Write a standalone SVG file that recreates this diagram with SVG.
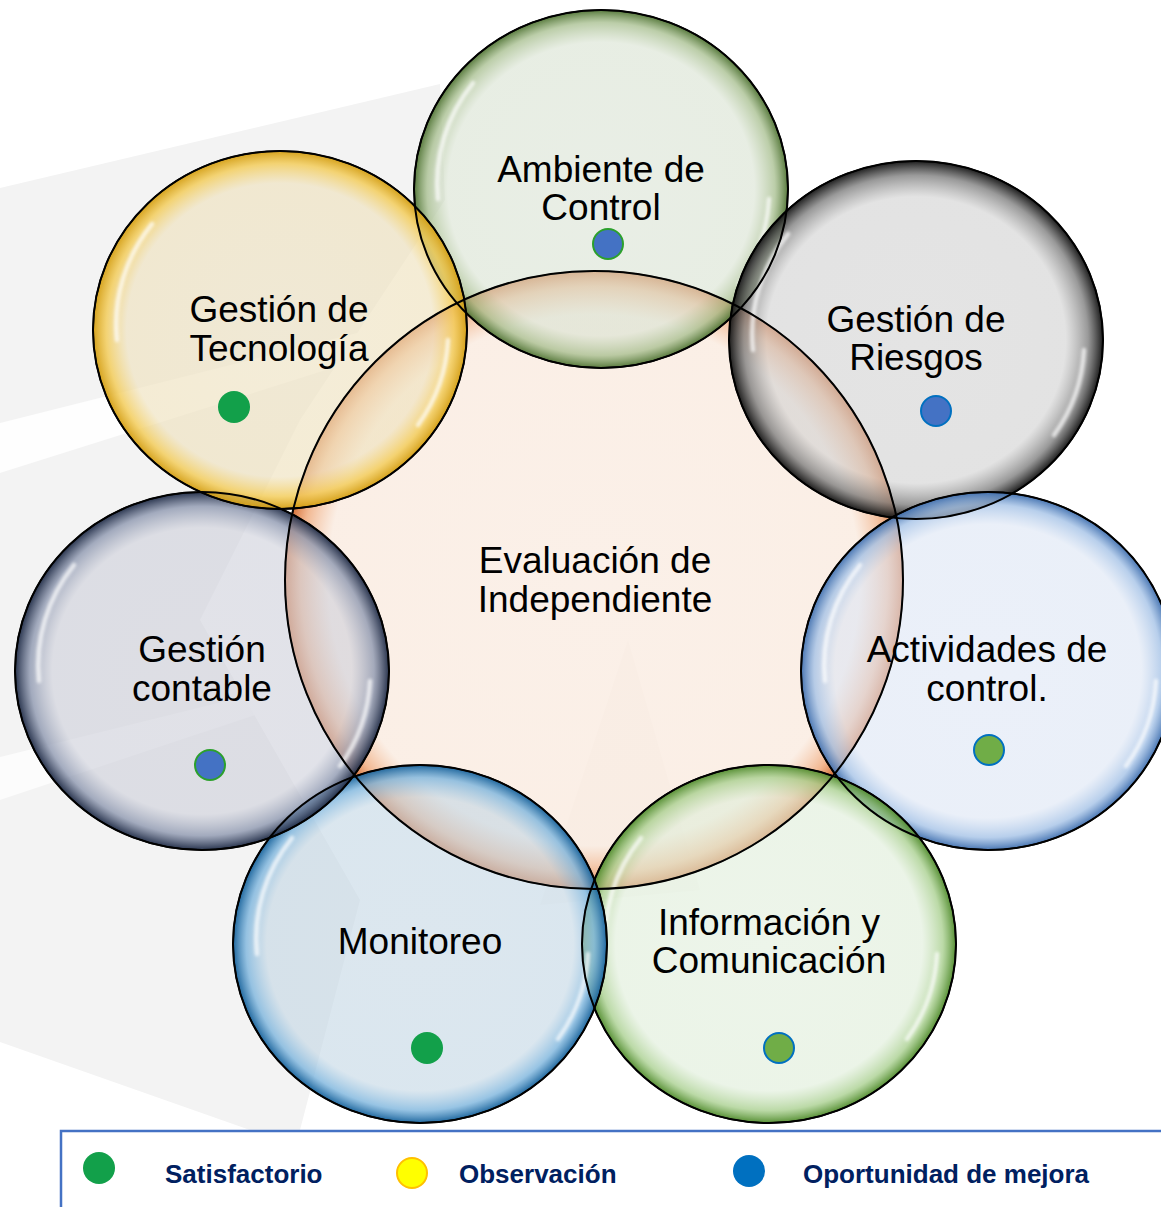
<svg xmlns="http://www.w3.org/2000/svg" width="1161" height="1207" viewBox="0 0 1161 1207">
<style>
.lbl{font-family:"Liberation Sans",Arial,sans-serif;font-size:37px;fill:#000;text-anchor:middle}
.leg{font-family:"Liberation Sans",Arial,sans-serif;font-size:26px;font-weight:bold;fill:#002060}
.bub{stroke:#000;stroke-width:1.5}
.ol{fill:none;stroke:#000;stroke-width:2}
.gl{fill:none;stroke:#fff;stroke-width:4.5;stroke-linecap:round;opacity:0.7;filter:url(#blur)}
</style>
<defs>
<filter id="blur" x="-20%" y="-20%" width="140%" height="140%"><feGaussianBlur stdDeviation="1.5"/></filter>
<radialGradient id="gC"><stop offset="0" stop-color="#F8E6D9" stop-opacity="0.6"/><stop offset="0.86" stop-color="#F8E4D5" stop-opacity="0.6"/><stop offset="0.95" stop-color="#EFA676" stop-opacity="0.78"/><stop offset="1" stop-color="#D2692E" stop-opacity="0.95"/></radialGradient>
<radialGradient id="gA"><stop offset="0" stop-color="#DAE3D5" stop-opacity="0.6"/><stop offset="0.82" stop-color="#D8E2D1" stop-opacity="0.6"/><stop offset="0.93" stop-color="#A5BD8C" stop-opacity="0.75"/><stop offset="1" stop-color="#4F7333" stop-opacity="0.95"/></radialGradient>
<radialGradient id="gR"><stop offset="0" stop-color="#D2D2D2" stop-opacity="0.6"/><stop offset="0.8" stop-color="#D0D0D0" stop-opacity="0.6"/><stop offset="0.92" stop-color="#808080" stop-opacity="0.8"/><stop offset="1" stop-color="#111" stop-opacity="0.95"/></radialGradient>
<radialGradient id="gAc"><stop offset="0" stop-color="#DEE6F5" stop-opacity="0.6"/><stop offset="0.82" stop-color="#DCE5F4" stop-opacity="0.6"/><stop offset="0.93" stop-color="#A3C1E6" stop-opacity="0.78"/><stop offset="1" stop-color="#3F6FAF" stop-opacity="0.95"/></radialGradient>
<radialGradient id="gI"><stop offset="0" stop-color="#E1EEDC" stop-opacity="0.6"/><stop offset="0.82" stop-color="#DEEDD8" stop-opacity="0.6"/><stop offset="0.93" stop-color="#A8CF8E" stop-opacity="0.78"/><stop offset="1" stop-color="#4E8A2A" stop-opacity="0.95"/></radialGradient>
<radialGradient id="gM"><stop offset="0" stop-color="#C5D7E4" stop-opacity="0.6"/><stop offset="0.82" stop-color="#C2D6E4" stop-opacity="0.6"/><stop offset="0.93" stop-color="#7DB5DD" stop-opacity="0.8"/><stop offset="1" stop-color="#14609A" stop-opacity="0.95"/></radialGradient>
<radialGradient id="gG"><stop offset="0" stop-color="#CFD0DA" stop-opacity="0.6"/><stop offset="0.8" stop-color="#CDCFDA" stop-opacity="0.6"/><stop offset="0.92" stop-color="#8E98B0" stop-opacity="0.8"/><stop offset="1" stop-color="#1E2A45" stop-opacity="0.95"/></radialGradient>
<radialGradient id="gT"><stop offset="0" stop-color="#EEE3C5" stop-opacity="0.65"/><stop offset="0.82" stop-color="#EFE2BE" stop-opacity="0.65"/><stop offset="0.93" stop-color="#F3CD5C" stop-opacity="0.85"/><stop offset="1" stop-color="#D49E12" stop-opacity="0.95"/></radialGradient>
<g id="gloss">
<path class="gl" d="M -128 -106 A 170 163 0 0 0 -163 10"/>
<path class="gl" d="M 168 10 A 170 163 0 0 1 138 95"/>
</g>
</defs>

<rect width="1161" height="1207" fill="#fff"/>
<g id="background">
<polygon points="0,188 440,84 445,200 300,420 200,620 360,900 300,1130 250,1130 0,1042" fill="#F3F3F3"/>
<polygon points="0,423 440,312 440,334 0,473" fill="#fff" opacity="0.85"/>
<polygon points="0,757 330,675 330,690 0,800" fill="#fff" opacity="0.7"/>
<polygon points="628,640 540,905 700,890" fill="#8a6a50" opacity="0.035"/>
</g>

<g id="node-central">
<circle class="bub" cx="594" cy="580" r="309" fill="url(#gC)"/>
<text class="lbl" x="595" y="573">Evaluación de</text>
<text class="lbl" x="595" y="612">Independiente</text>
</g>

<g id="node-ambiente">
<ellipse class="bub" cx="601" cy="189" rx="187" ry="179" fill="url(#gA)"/>
<use href="#gloss" transform="translate(601,189)"/>
<text class="lbl" x="601" y="182">Ambiente de</text>
<text class="lbl" x="601" y="220">Control</text>
<circle cx="608" cy="244" r="15" fill="#4472C4" stroke="#2CA02C" stroke-width="2"/>
</g>

<g id="node-riesgos">
<ellipse class="bub" cx="916" cy="340" rx="187" ry="179" fill="url(#gR)"/>
<use href="#gloss" transform="translate(916,340)"/>
<text class="lbl" x="916" y="332">Gestión de</text>
<text class="lbl" x="916" y="370">Riesgos</text>
<circle cx="936" cy="411" r="15" fill="#4472C4" stroke="#0070C0" stroke-width="2"/>
</g>

<g id="node-actividades">
<ellipse class="bub" cx="988" cy="671" rx="187" ry="179" fill="url(#gAc)"/>
<use href="#gloss" transform="translate(988,671)"/>
<text class="lbl" x="987" y="662">Actividades de</text>
<text class="lbl" x="987" y="701">control.</text>
<circle cx="989" cy="750" r="15" fill="#70AD47" stroke="#0070C0" stroke-width="2"/>
</g>

<g id="node-informacion">
<ellipse class="bub" cx="769" cy="944" rx="187" ry="179" fill="url(#gI)"/>
<use href="#gloss" transform="translate(769,944)"/>
<text class="lbl" x="769" y="935">Información y</text>
<text class="lbl" x="769" y="973">Comunicación</text>
<circle cx="779" cy="1048" r="15" fill="#70AD47" stroke="#0070C0" stroke-width="2"/>
</g>

<g id="node-monitoreo">
<ellipse class="bub" cx="420" cy="944" rx="187" ry="179" fill="url(#gM)"/>
<use href="#gloss" transform="translate(420,944)"/>
<text class="lbl" x="420" y="954">Monitoreo</text>
<circle cx="427" cy="1048" r="16" fill="#12A04A"/>
</g>

<g id="node-contable">
<ellipse class="bub" cx="202" cy="671" rx="187" ry="179" fill="url(#gG)"/>
<use href="#gloss" transform="translate(202,671)"/>
<text class="lbl" x="202" y="662">Gestión</text>
<text class="lbl" x="202" y="701">contable</text>
<circle cx="210" cy="765" r="15" fill="#4472C4" stroke="#2CA02C" stroke-width="2"/>
</g>

<g id="node-tecnologia">
<ellipse class="bub" cx="280" cy="330" rx="187" ry="179" fill="url(#gT)"/>
<use href="#gloss" transform="translate(280,330)"/>
<text class="lbl" x="279" y="322">Gestión de</text>
<text class="lbl" x="279" y="361">Tecnología</text>
<circle cx="234" cy="407" r="16" fill="#12A04A"/>
</g>

<g id="outlines">
<circle class="ol" cx="594" cy="580" r="309"/>
<ellipse class="ol" cx="601" cy="189" rx="187" ry="179"/>
<ellipse class="ol" cx="916" cy="340" rx="187" ry="179"/>
<ellipse class="ol" cx="988" cy="671" rx="187" ry="179"/>
<ellipse class="ol" cx="769" cy="944" rx="187" ry="179"/>
<ellipse class="ol" cx="420" cy="944" rx="187" ry="179"/>
<ellipse class="ol" cx="202" cy="671" rx="187" ry="179"/>
<ellipse class="ol" cx="280" cy="330" rx="187" ry="179"/>
</g>

<g id="legend">
<rect x="61" y="1131" width="1120" height="100" fill="#fff" stroke="#4472C4" stroke-width="2.5"/>
<circle cx="99" cy="1168" r="16" fill="#12A04A"/>
<text class="leg" x="165" y="1183">Satisfactorio</text>
<circle cx="412" cy="1173" r="15" fill="#FFFF00" stroke="#FFC000" stroke-width="2"/>
<text class="leg" x="459" y="1183">Observación</text>
<circle cx="749" cy="1171" r="16" fill="#0070C0"/>
<text class="leg" x="803" y="1183">Oportunidad de mejora</text>
</g>
</svg>
